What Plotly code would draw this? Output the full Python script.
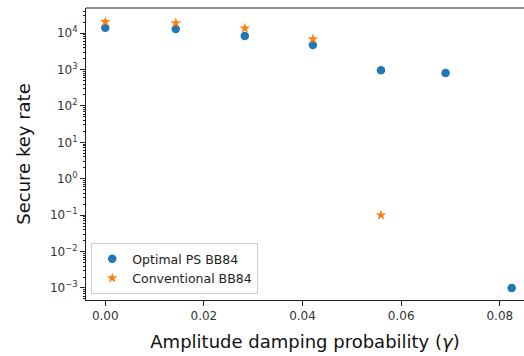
import plotly.graph_objects as go

gamma_ps = [0.0, 0.0143, 0.0283, 0.0421, 0.0559, 0.069, 0.0824]
rate_ps = [14000, 12900, 8300, 4700, 960, 800, 0.001]
gamma_conv = [0.0, 0.0143, 0.0283, 0.0421, 0.0559]
rate_conv = [20500, 19000, 13600, 6900, 0.1]
ytick_vals = [1e-3, 1e-2, 1e-1, 1, 10, 100, 1e3, 1e4]
ytick_text = ["10<sup>−3</sup>", "10<sup>−2</sup>", "10<sup>−1</sup>", "10<sup>0</sup>",
              "10<sup>1</sup>", "10<sup>2</sup>", "10<sup>3</sup>", "10<sup>4</sup>"]
xtick_vals = [0.0, 0.02, 0.04, 0.06, 0.08]
xtick_text = ["0.00", "0.02", "0.04", "0.06", "0.08"]
minor_vals = [m * 10.0 ** k for k in range(-4, 5) for m in range(2, 10)]

fig = go.Figure()
fig.add_trace(go.Scatter(x=gamma_ps, y=rate_ps, mode="markers", name="Optimal PS BB84",
                         marker=dict(symbol="circle", size=8.5, color="#1f77b4")))
fig.add_trace(go.Scatter(x=gamma_conv, y=rate_conv, mode="markers", name="Conventional BB84",
                         marker=dict(symbol="star", size=8, color="#ff7f0e")))

axis_font = dict(family="DejaVu Sans", size=12, color="#333333")
fig.update_layout(
    width=524, height=356,
    margin=dict(l=86, r=0, t=8, b=56),
    paper_bgcolor="white", plot_bgcolor="white",
    font=dict(family="DejaVu Sans", color="#222222"),
    showlegend=True,
    legend=dict(x=0.012, y=0.02, xanchor="left", yanchor="bottom",
                bordercolor="#cccccc", borderwidth=1, bgcolor="rgba(255,255,255,0.8)",
                font=dict(family="DejaVu Sans", size=12.5, color="#222222"),
                tracegroupgap=0),
    xaxis=dict(range=[-0.0039, 0.0849], tickvals=xtick_vals, ticktext=xtick_text,
               showgrid=False, zeroline=False, showline=True, linecolor="#222222", linewidth=1,
               ticks="outside", ticklen=5, tickcolor="#222222", tickfont=axis_font,
               title=dict(text="Amplitude damping probability (<i>γ</i>)",
                          font=dict(family="DejaVu Sans", size=18, color="#111111"), standoff=12)),
    yaxis=dict(type="log", range=[-3.33, 4.69], tickvals=ytick_vals, ticktext=ytick_text,
               showgrid=False, zeroline=False, showline=True, linecolor="#222222", linewidth=1,
               ticks="outside", ticklen=5, tickcolor="#222222", tickfont=axis_font,
               minor=dict(tickmode="array", tickvals=minor_vals, ticks="outside", ticklen=2.5,
                          tickcolor="#222222", showgrid=False),
               title=dict(text="Secure key rate",
                          font=dict(family="DejaVu Sans", size=18, color="#111111"), standoff=14)),
)
fig.add_shape(type="line", xref="paper", yref="paper", x0=0, x1=1, y0=1, y1=1,
              line=dict(color="#222222", width=1))
fig.write_html("out.html")
